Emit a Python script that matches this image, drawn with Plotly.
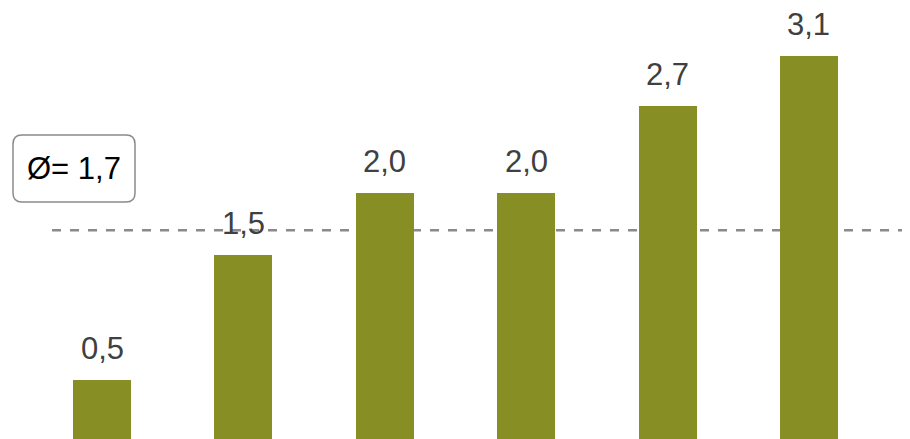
import plotly.graph_objects as go

categories = ["A", "B", "C", "D", "E", "F"]
values = [0.5, 1.5, 2.0, 2.0, 2.7, 3.1]
average = 1.7
labels = [f"{v:.1f}".replace(".", ",") for v in values]
avg_label = "Ø= " + f"{average:.1f}".replace(".", ",")

W, H = 910, 439
BAR_COLOR = "#878F24"
FONT = "Liberation Sans, Arial, sans-serif"

x_idx = list(range(len(categories)))

fig = go.Figure()
fig.add_trace(go.Bar(
    x=x_idx, y=values, width=0.41,
    marker=dict(color=BAR_COLOR, line=dict(width=0)),
    hoverinfo="skip",
))

for i, (v, t) in enumerate(zip(values, labels)):
    fig.add_annotation(
        x=i, y=v, text=t, showarrow=False, yanchor="bottom", xanchor="center",
        yshift=12, font=dict(family=FONT, size=31, color="#404040"),
    )

# average dashed line (behind bars)
fig.add_shape(
    type="line", xref="paper", yref="y", x0=44 / W, x1=1, y0=average, y1=average,
    line=dict(color="#8a8a8a", width=2.5, dash="9px,9px"), layer="below",
)

# rounded box for average label
x0, x1 = 5 / W, 127 / W
y1, y0 = 1 - 127 / H, 1 - 194 / H
rx, ry = 9 / W, 9 / H
path = (
    f"M {x0+rx},{y1} L {x1-rx},{y1} Q {x1},{y1} {x1},{y1-ry} "
    f"L {x1},{y0+ry} Q {x1},{y0} {x1-rx},{y0} "
    f"L {x0+rx},{y0} Q {x0},{y0} {x0},{y0+ry} "
    f"L {x0},{y1-ry} Q {x0},{y1} {x0+rx},{y1} Z"
)
fig.add_shape(type="path", xref="paper", yref="paper", path=path,
              line=dict(color="#8a8a8a", width=1.5), fillcolor="white")
fig.add_annotation(
    xref="paper", yref="paper", x=(x0 + x1) / 2, y=(y0 + y1) / 2,
    text=avg_label, showarrow=False, xanchor="center", yanchor="middle",
    font=dict(family=FONT, size=31, color="#000000"),
)

fig.update_layout(
    width=W, height=H, margin=dict(l=0, r=0, t=0, b=0),
    paper_bgcolor="white", plot_bgcolor="white", showlegend=False,
    bargap=0,
    xaxis=dict(range=[-0.665, 5.771], visible=False, fixedrange=True),
    yaxis=dict(range=[-0.04, 3.486], visible=False, fixedrange=True),
)

fig.write_html("out.html")
